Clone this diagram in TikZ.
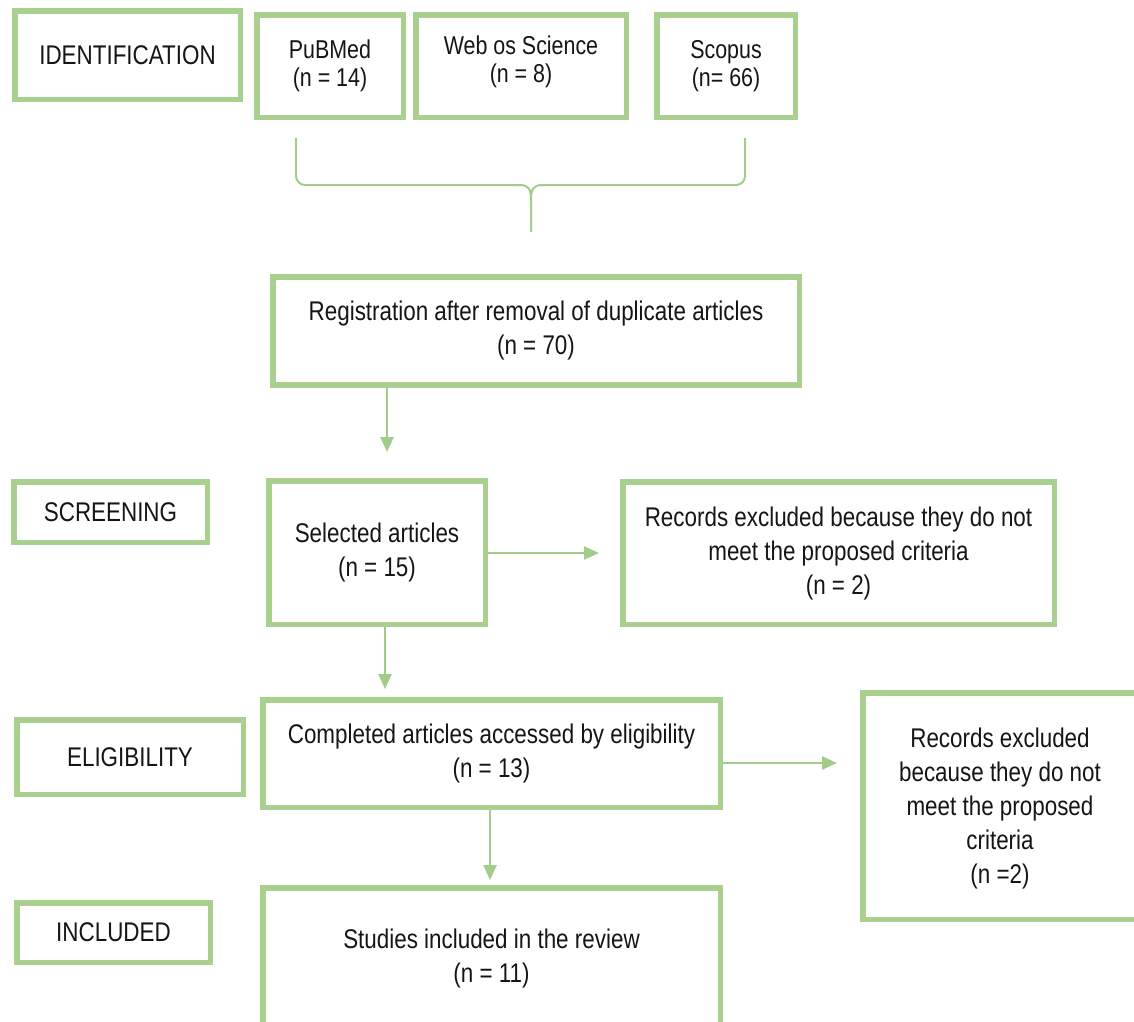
\documentclass[tikz,border=0pt]{standalone}
\usepackage{fontspec}
\setmainfont{Liberation Sans}[FakeStretch=0.83]
\usetikzlibrary{arrows.meta}
\definecolor{boxgreen}{HTML}{A9D08E}
\definecolor{arrgreen}{HTML}{A3CC8A}
\definecolor{txt}{HTML}{151515}
\begin{document}
\begin{tikzpicture}[x=1pt,y=-1pt,
  box/.style={draw=boxgreen,line width=5.5pt,fill=white,inner sep=0pt,align=center,text=txt,
    font=\fontsize{27}{34}\selectfont},
  topbox/.style={box,font=\fontsize{25.8}{28}\selectfont},
  plain/.style={align=center,text=txt,inner sep=0pt},
  arr/.style={draw=arrgreen,line width=2.5pt,-{Triangle[length=15pt,width=13pt]}},
  bracel/.style={draw=arrgreen,line width=2pt,rounded corners=9pt}]
\useasboundingbox (0,0) rectangle (1134,1021);
\begin{scope}
\clip (0,0) rectangle (1134,1021);
% identification row
\node[box,minimum width=225.5pt,minimum height=88.5pt] (ident) at (127.5,55) {IDENTIFICATION};
\node[topbox,minimum width=146.5pt,minimum height=102.5pt] (pub) at (330,66) {PuBMed\\(n = 14)};
\node[topbox,minimum width=210.5pt,minimum height=102.5pt] (web) at (521,66) {};
\node[plain,font=\fontsize{25.8}{28}\selectfont] (webt) at (521,62) {Web os Science\\(n = 8)};
\node[topbox,minimum width=138.5pt,minimum height=102.5pt] (scop) at (726,66) {Scopus\\(n= 66)};
% brace
\coordinate (bl) at (296,138);
\coordinate (br) at (745,138);
\coordinate (bm) at (531,200);
\coordinate (btip) at (531,232);
\draw[bracel] (bl) -- (296,185) -- (521,185);
\draw[bracel] (br) -- (745,185) -- (541,185);
\draw[draw=arrgreen,line width=2pt] (519,185) .. controls (529,185) and (531,189) .. (bm) -- (btip);
\draw[draw=arrgreen,line width=2pt] (543,185) .. controls (533,185) and (531,189) .. (bm);
% registration
\node[box,minimum width=526.5pt,minimum height=108pt] (reg) at (536,331) {Registration after removal of duplicate articles\\(n = 70)};
% screening
\node[box,minimum width=193.5pt,minimum height=60.5pt] (scr) at (110.5,512) {SCREENING};
\node[box,minimum width=216.5pt,minimum height=143.5pt] (sel) at (377,552.5) {Selected articles\\(n = 15)};
\node[box,minimum width=431.5pt,minimum height=142.5pt] (rec1) at (838.5,553) {Records excluded because they do not\\meet the proposed criteria\\(n = 2)};
% eligibility
\node[box,minimum width=226.5pt,minimum height=74.5pt] (elig) at (130,757) {ELIGIBILITY};
\node[box,minimum width=457.5pt,minimum height=107.5pt] (comp) at (491.5,753.5) {Completed articles accessed by eligibility\\(n = 13)};
\node[box,minimum width=279.5pt,minimum height=226.5pt] (rec2) at (1002.5,806) {};
\node[plain,font=\fontsize{27}{34}\selectfont] (rec2t) at (1000,808) {Records excluded\\because they do not\\meet the proposed\\criteria\\(n =2)};
% included
\node[box,minimum width=193.5pt,minimum height=59.5pt] (incl) at (113.5,932.5) {INCLUDED};
\node[box,minimum width=457.5pt,minimum height=140.5pt] (stud) at (491.5,958) {Studies included in the review\\(n = 11)};
% arrows
\coordinate (t1) at (387,452);
\coordinate (t2) at (599,553);
\coordinate (t3) at (385,689);
\coordinate (t4) at (837,763);
\coordinate (t5) at (490,880);
\draw[arr] (reg.south -| t1) -- (t1);
\draw[arr] (sel.east |- t2) -- (t2);
\draw[arr] (sel.south -| t3) -- (t3);
\draw[arr] (comp.east |- t4) -- (t4);
\draw[arr] (comp.south -| t5) -- (t5);
\end{scope}
\end{tikzpicture}
\end{document}
